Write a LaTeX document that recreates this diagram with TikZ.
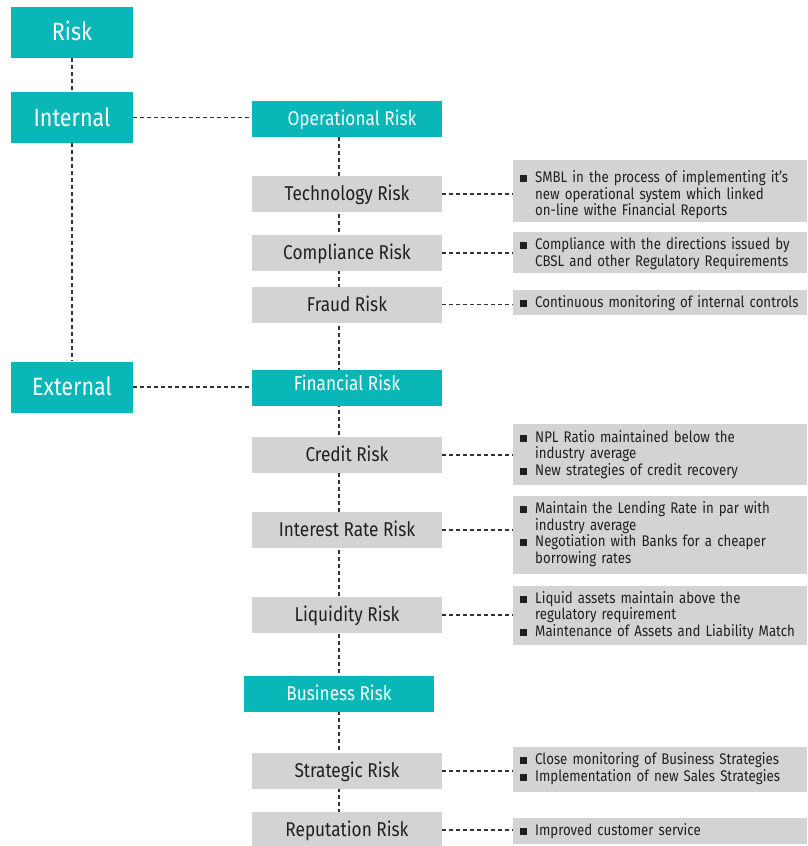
\documentclass[tikz,border=0pt]{standalone}
\usepackage{fontspec}
\setmainfont{Fira Sans}[FakeStretch=0.86]
\usetikzlibrary{backgrounds}
\definecolor{riskteal}{RGB}{9,183,185}
\definecolor{riskgray}{RGB}{209,211,212}
\definecolor{riskink}{RGB}{35,31,32}
\definecolor{riskline}{RGB}{50,50,52}
% one bullet point with a hanging indent; break lines inside with \newline
\newcommand\bulletitem[1]{\hangindent=15pt\hangafter=1\noindent
  \makebox[15pt][l]{\rule[0.5pt]{7pt}{7pt}}#1\par}
\begin{document}
\begin{tikzpicture}[x=1pt,y=-1pt,
  topbox/.style={fill=riskteal,text=white,inner sep=0pt,text height=17.2pt,text depth=0pt,
    minimum width=122pt,minimum height=51pt,font=\fontsize{25}{27}\selectfont},
  catbox/.style={fill=riskteal,text=white,inner sep=0pt,text height=13.8pt,text depth=0pt,
    minimum width=190pt,minimum height=36pt,font=\fontsize{20}{22}\selectfont},
  subbox/.style={fill=riskgray,text=riskink,inner sep=0pt,text height=13.8pt,text depth=0pt,
    minimum width=190pt,minimum height=36pt,font=\fontsize{20}{22}\selectfont},
  notebox/.style={fill=riskgray,anchor=west,inner sep=0pt,minimum width=294pt},
  notetext/.style={anchor=base west,inner sep=0pt,text=riskink,text width=290pt,
    font=\fontsize{15.4}{16.5}\selectfont},
  link/.style={draw=riskline,line width=1.4pt,dash pattern=on 4pt off 3pt}]
\useasboundingbox (0,0) rectangle (807,846);

% main categories
\node[topbox] (risk) at (72,32) {Risk};
\node[topbox] (internal) at (72,117.5) {Internal};
\node[topbox] (external) at (72,387) {External};

\node[catbox] (oper) at (347,119) {\hspace*{10pt}Operational Risk};
\node[subbox] (tech) at (347,194) {Technology Risk};
\node[subbox] (comp) at (347,253) {Compliance Risk};
\node[subbox] (fraud) at (347,304.5) {Fraud Risk};

\node[catbox,text depth=8pt] (fin) at (347,388) {Financial Risk};
\node[subbox] (credit) at (347,455) {Credit Risk};
\node[subbox] (interest) at (347,530) {Interest Rate Risk};
\node[subbox] (liquid) at (347,615) {Liquidity Risk};

\node[catbox] (bus) at (339,694) {Business Risk};
\node[subbox] (strat) at (347,771) {Strategic Risk};
\node[subbox] (repu) at (347,830) {Reputation Risk};

% measures taken for each risk: grey panel, then its bullet text
\node[notebox,minimum height=62pt] (technote) at (513,191) {};
\node[notetext] (technote-txt) at ([shift={(7,23)}]technote.north west) {%
  \bulletitem{SMBL in the process of implementing it’s\newline new operational system which linked\newline on-line withe Financial Reports}};
\node[notebox,minimum height=41pt] (compnote) at (513,252.5) {};
\node[notetext] (compnote-txt) at ([shift={(7,18)}]compnote.north west) {%
  \bulletitem{Compliance with the directions issued by\newline CBSL and other Regulatory Requirements}};
\node[notebox,minimum height=25pt] (fraudnote) at (513,302.5) {};
\node[notetext] (fraudnote-txt) at ([shift={(7,17.5)}]fraudnote.north west) {%
  \bulletitem{Continuous monitoring of internal controls}};
\node[notebox,minimum height=61pt] (creditnote) at (513,454.5) {};
\node[notetext] (creditnote-txt) at ([shift={(7,18.5)}]creditnote.north west) {%
  \bulletitem{NPL Ratio maintained below the\newline industry average}
  \bulletitem{New strategies of credit recovery}};
\node[notebox,minimum height=78pt] (intnote) at (513,535) {};
\node[notetext] (intnote-txt) at ([shift={(7,18)}]intnote.north west) {%
  \bulletitem{Maintain the Lending Rate in par with\newline industry average}
  \bulletitem{Negotiation with Banks for a cheaper\newline borrowing rates}};
\node[notebox,minimum height=59pt] (liqnote) at (513,615.5) {};
\node[notetext] (liqnote-txt) at ([shift={(7,17.5)}]liqnote.north west) {%
  \bulletitem{Liquid assets maintain above the\newline regulatory requirement}
  \bulletitem{Maintenance of Assets and Liability Match}};
\node[notebox,minimum height=45pt] (stratnote) at (513,769.5) {};
\node[notetext] (stratnote-txt) at ([shift={(7,18)}]stratnote.north west) {%
  \bulletitem{Close monitoring of Business Strategies}
  \bulletitem{Implementation of new Sales Strategies}};
\node[notebox,minimum height=26pt] (repunote) at (513,831) {};
\node[notetext] (repunote-txt) at ([shift={(7,17.5)}]repunote.north west) {%
  \bulletitem{Improved customer service}};

% dotted connectors behind the boxes
\begin{pgfonlayer}{background}
  \draw[link] (risk) -- (internal);
  \draw[link] (internal) -- (external);
  \draw[link] (internal.east) -- (internal.east -| oper.west);
  \draw[link] (external.east) -- (external.east -| fin.west);
  \draw[link] (oper.south -| bus) -- (repu.north -| bus);
  \draw[link] (tech.east) -- (tech.east -| technote.west);
  \draw[link] (comp.east) -- (comp.east -| compnote.west);
  \draw[link] (fraud.east) -- (fraud.east -| fraudnote.west);
  \draw[link] (credit.east) -- (credit.east -| creditnote.west);
  \draw[link] (interest.east) -- (interest.east -| intnote.west);
  \draw[link] (liquid.east) -- (liquid.east -| liqnote.west);
  \draw[link] (strat.east) -- (strat.east -| stratnote.west);
  \draw[link] (repu.east) -- (repu.east -| repunote.west);
\end{pgfonlayer}
\end{tikzpicture}
\end{document}
